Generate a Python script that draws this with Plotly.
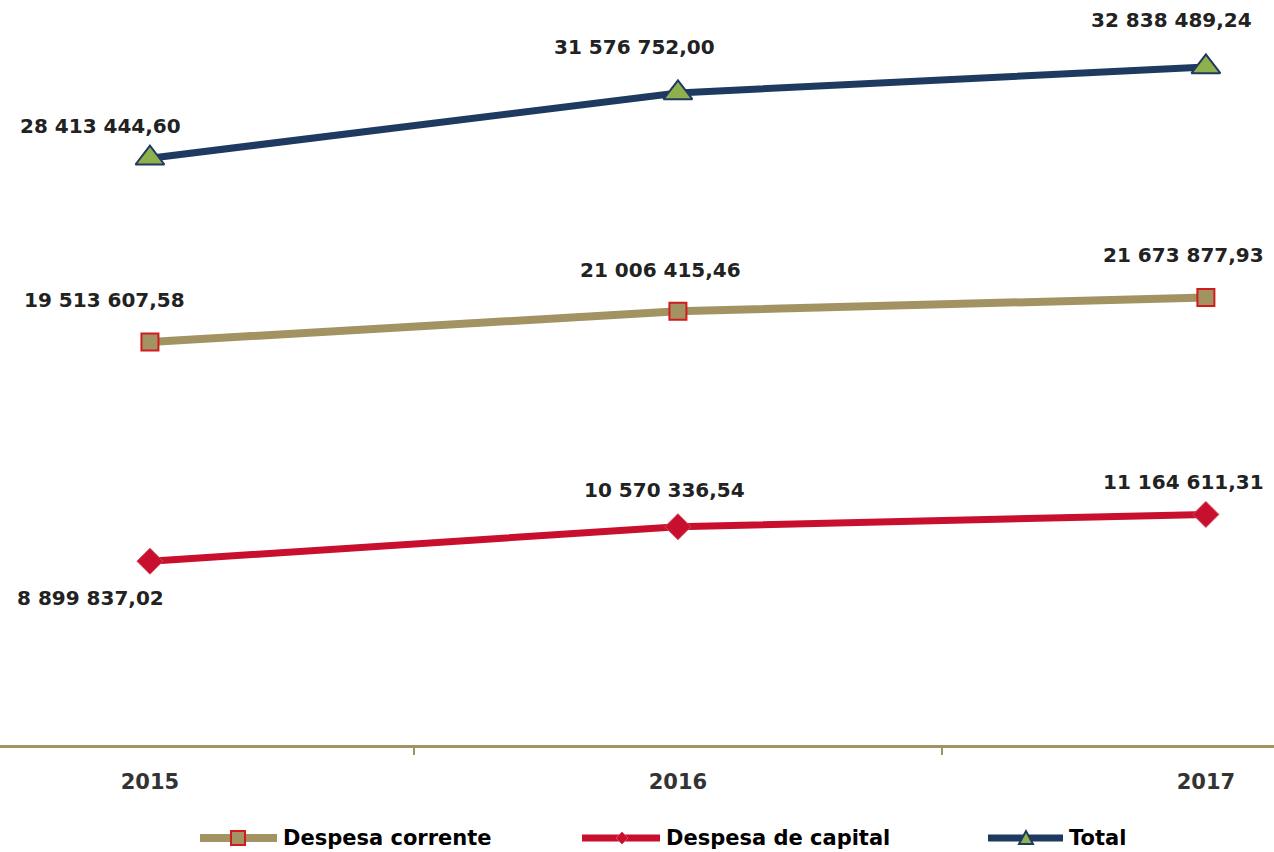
import plotly.graph_objects as go

years = ["2015", "2016", "2017"]
despesa_corrente = [19513607.58, 21006415.46, 21673877.93]
despesa_capital = [8899837.02, 10570336.54, 11164611.31]
total = [28413444.60, 31576752.00, 32838489.24]

OLIVE = "#a39363"
RED_BORDER = "#d01c1c"
CRIMSON = "#c8102e"
NAVY = "#1f3a60"
GREEN = "#8fb04c"
FONT = "DejaVu Sans"

W, H = 1274, 852
PLOT_BOTTOM = 745  # px where y=0
MARGIN_B = H - PLOT_BOTTOM


def fmt(v):
    return f"{v:,.2f}".replace(",", " ").replace(".", ",")


fig = go.Figure()

fig.add_trace(go.Scatter(
    x=years, y=despesa_corrente, mode="lines+markers", name="Despesa corrente",
    line=dict(color=OLIVE, width=8),
    marker=dict(symbol="square", size=17, color=OLIVE, line=dict(color=RED_BORDER, width=2)),
    showlegend=False,
))
fig.add_trace(go.Scatter(
    x=years, y=despesa_capital, mode="lines+markers", name="Despesa de capital",
    line=dict(color=CRIMSON, width=7),
    marker=dict(symbol="diamond", size=20, color=CRIMSON, line=dict(color="#d4485a", width=1)),
    showlegend=False,
))
fig.add_trace(go.Scatter(
    x=years, y=total, mode="lines+markers", name="Total",
    line=dict(color=NAVY, width=7),
    marker=dict(symbol="triangle-up", size=25, color=GREEN, line=dict(color=NAVY, width=2)),
    showlegend=False,
))

# data labels (pixel offsets are style)
label_shifts = {
    "total": [(-49, 32), (-43, 46), (-34, 47)],
    "corrente": [(-45, 42), (-17, 41), (-22, 42)],
    "capital": [(-59, -37), (-13, 37), (-22, 32)],
}
series = {"total": total, "corrente": despesa_corrente, "capital": despesa_capital}
for key, vals in series.items():
    for i, v in enumerate(vals):
        dx, dy = label_shifts[key][i]
        fig.add_annotation(
            x=i, y=v, xref="x", yref="y", text=fmt(v), showarrow=False,
            xshift=dx, yshift=dy, xanchor="center", yanchor="middle",
            font=dict(family=FONT, size=20, color="#222222", weight="bold"),
        )

# custom legend (paper coordinates)
def px_x(p):
    return p / W

def px_y(p):
    return (PLOT_BOTTOM - p) / PLOT_BOTTOM

leg_y = 838
legend_items = [
    dict(x0=200, x1=277, color=OLIVE, width=8, text="Despesa corrente", tx=281),
    dict(x0=582, x1=660, color=CRIMSON, width=7, text="Despesa de capital", tx=664),
    dict(x0=988, x1=1063, color=NAVY, width=7, text="Total", tx=1067),
]
for it in legend_items:
    fig.add_shape(type="line", xref="paper", yref="paper",
                  x0=px_x(it["x0"]), x1=px_x(it["x1"]), y0=px_y(leg_y), y1=px_y(leg_y),
                  line=dict(color=it["color"], width=it["width"]), layer="above")
    fig.add_annotation(x=px_x(it["tx"]), y=px_y(leg_y), xref="paper", yref="paper",
                       text=it["text"], showarrow=False, xanchor="left", yanchor="middle",
                       font=dict(family=FONT, size=21, color="#000000", weight="bold"))

# legend markers
cx = 238
fig.add_shape(type="rect", xref="paper", yref="paper",
              x0=px_x(cx - 7), x1=px_x(cx + 7), y0=px_y(leg_y + 7), y1=px_y(leg_y - 7),
              fillcolor=OLIVE, line=dict(color=RED_BORDER, width=2), layer="above")
cx = 622
fig.add_shape(type="path", xref="paper", yref="paper",
              path=f"M {px_x(cx-6)} {px_y(leg_y)} L {px_x(cx)} {px_y(leg_y-6)} L {px_x(cx+6)} {px_y(leg_y)} L {px_x(cx)} {px_y(leg_y+6)} Z",
              fillcolor=CRIMSON, line=dict(color="#d4485a", width=1), layer="above")
cx = 1026
fig.add_shape(type="path", xref="paper", yref="paper",
              path=f"M {px_x(cx-7)} {px_y(leg_y+6)} L {px_x(cx)} {px_y(leg_y-7)} L {px_x(cx+7)} {px_y(leg_y+6)} Z",
              fillcolor=GREEN, line=dict(color=NAVY, width=2), layer="above")

y_top = PLOT_BOTTOM / 20.65 * 1e6

fig.update_layout(
    width=W, height=H,
    margin=dict(l=0, r=0, t=0, b=MARGIN_B, autoexpand=False),
    paper_bgcolor="white", plot_bgcolor="white",
    showlegend=False,
    xaxis=dict(
        type="category", categoryorder="array", categoryarray=years,
        range=[-0.284, 2.129],
        showline=True, linecolor=OLIVE, linewidth=3,
        ticks="outside", tickson="boundaries", ticklen=7, tickwidth=2, tickcolor=OLIVE,
        showgrid=False, zeroline=False,
        ticklabelstandoff=16,
        tickfont=dict(family=FONT, size=21, color="#333333", weight="bold"),
    ),
    yaxis=dict(
        range=[0, y_top], showgrid=False, zeroline=False, showline=False,
        showticklabels=False, ticks="",
    ),
)

fig.write_html("out.html", config={"displayModeBar": False},
               post_script="document.body.style.margin='0';document.body.style.padding='0';")
